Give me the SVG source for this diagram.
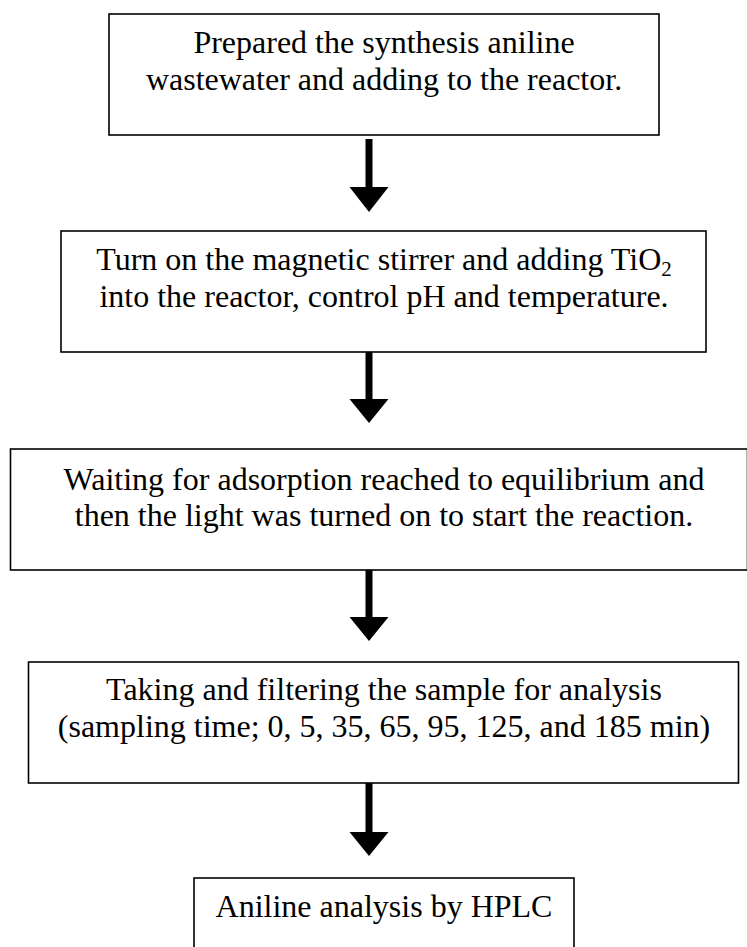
<svg xmlns="http://www.w3.org/2000/svg" width="747" height="947" viewBox="0 0 747 947">
  <defs>
    <style>
      .box { fill: #ffffff; stroke: #000000; stroke-width: 1.6; }
      .label { font-family: "Liberation Serif", "Times New Roman", serif; font-size: 32px; fill: #000000; text-anchor: middle; }
      .shaft { stroke: #000000; stroke-width: 7; fill: none; }
      .head { fill: #000000; stroke: none; }
    </style>
  </defs>
  <rect width="747" height="947" fill="#ffffff"/>

  <!-- flow connectors: thick shaft + solid triangular head -->
  <g id="connectors">
    <line class="shaft" x1="369" y1="139" x2="369" y2="188"/>
    <polygon class="head" points="349.5,187 388.5,187 369,212"/>

    <line class="shaft" x1="369" y1="352" x2="369" y2="400"/>
    <polygon class="head" points="349.5,399 388.5,399 369,423"/>

    <line class="shaft" x1="369" y1="570" x2="369" y2="618"/>
    <polygon class="head" points="349.5,617 388.5,617 369,641"/>

    <line class="shaft" x1="369" y1="783" x2="369" y2="833"/>
    <polygon class="head" points="349.5,832 388.5,832 369,856"/>
  </g>

  <g id="step1">
    <rect class="box" x="109" y="14" width="550" height="121"/>
    <text class="label" x="384" y="53">Prepared the synthesis aniline</text>
    <text class="label" x="384" y="90">wastewater and adding to the reactor.</text>
  </g>

  <g id="step2">
    <rect class="box" x="61" y="231" width="645" height="121"/>
    <text class="label" x="384" y="270">Turn on the magnetic stirrer and adding TiO<tspan font-size="21" dy="6">2</tspan></text>
    <text class="label" x="384" y="306.5">into the reactor, control pH and temperature.</text>
  </g>

  <g id="step3">
    <rect class="box" x="10.5" y="449" width="737" height="121"/>
    <text class="label" x="384" y="490">Waiting for adsorption reached to equilibrium and</text>
    <text class="label" x="384" y="526">then the light was turned on to start the reaction.</text>
  </g>

  <g id="step4">
    <rect class="box" x="28.5" y="662" width="710" height="121"/>
    <text class="label" x="384" y="700">Taking and filtering the sample for analysis</text>
    <text class="label" x="384" y="737">(sampling time; 0, 5, 35, 65, 95, 125, and 185 min)</text>
  </g>

  <g id="step5">
    <rect class="box" x="194" y="878" width="380" height="100"/>
    <text class="label" x="384" y="917">Aniline analysis by HPLC</text>
  </g>
</svg>
